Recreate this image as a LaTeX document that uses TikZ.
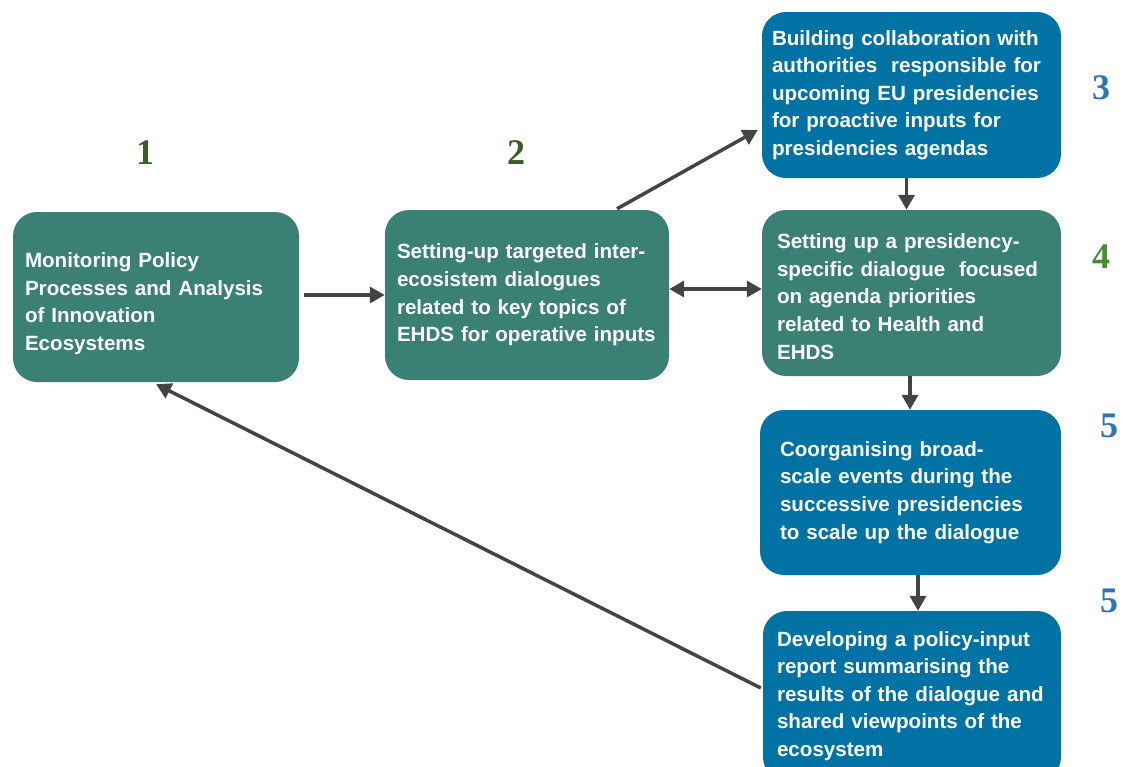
\documentclass[tikz,border=0pt]{standalone}
\usepackage{fontspec}
\setmainfont{Liberation Sans}
\newfontfamily\numfont{Liberation Serif}
\usetikzlibrary{arrows.meta}

\definecolor{boxgreen}{RGB}{58,128,117}
\definecolor{boxblue}{RGB}{0,114,163}
\definecolor{numdark}{RGB}{56,93,40}
\definecolor{numgreen}{RGB}{74,138,52}
\definecolor{numblue}{RGB}{46,117,182}
\definecolor{arrowgray}{RGB}{68,68,68}

\tikzset{
  stage/.style={rounded corners=24pt, text=white, align=left, inner xsep=12pt,
    font=\bfseries\fontsize{20.6}{27.6}\selectfont},
  greenbox/.style={stage, fill=boxgreen},
  bluebox/.style={stage, fill=boxblue},
  stepnum/.style={font=\numfont\bfseries\fontsize{36}{36}\selectfont},
  arr/.style={draw=arrowgray, line width=3.5pt, -{Triangle[length=15pt,width=16pt]}},
  arrboth/.style={arr, {Triangle[length=15pt,width=16pt]}-{Triangle[length=15pt,width=16pt]}}
}

\begin{document}
\begin{tikzpicture}[x=1pt,y=-1pt]
    \useasboundingbox (0,0) rectangle (1124,766);
    \clip (0,0) rectangle (1124,766);

    % step boxes
    \node [greenbox, inner xsep=12pt, text width=262pt, minimum height=170pt] (monitor) at (156,297)
        {\rule{0pt}{28pt}Monitoring Policy\\Processes and Analysis\\of Innovation\\Ecosystems};
    \node [greenbox, inner xsep=12pt, text width=260pt, minimum height=170pt] (dialogue) at (527,295)
        {Setting-up targeted inter-\\ecosistem dialogues\\related to key topics of\\EHDS for operative inputs};
    \node [bluebox, inner xsep=10pt, text width=279pt, minimum height=166pt] (collab) at (911.5,95)
        {Building collaboration with\\authorities\ \ responsible for\\upcoming EU presidencies\\for proactive inputs for\\presidencies agendas};
    \node [greenbox, inner xsep=15pt, text width=269pt, minimum height=166pt] (presid) at (911.5,293)
        {\rule{0pt}{22pt}Setting up a presidency-\\specific dialogue\ \ focused\\on agenda priorities\\related to Health and\\EHDS};
    \node [bluebox, inner xsep=20pt, text width=261pt, minimum height=165pt] (events) at (910.5,492.5)
        {Coorganising broad-\\scale events during the\\successive presidencies\\to scale up the dialogue};
    \node [bluebox, inner xsep=14pt, text width=270pt, minimum height=170pt] (report) at (912,696)
        {Developing a policy-input\\report summarising the\\results of the dialogue and\\shared viewpoints of the\\ecosystem};

    % step numbers
    \node [stepnum, text=numdark] (n1) at (145,153) {1};
    \node [stepnum, text=numdark] (n2) at (516,153) {2};
    \node [stepnum, text=numblue] (n3) at (1101,88) {3};
    \node [stepnum, text=numgreen] (n4) at (1101,257) {4};
    \node [stepnum, text=numblue] (n5) at (1109,426) {5};
    \node [stepnum, text=numblue] (n6) at (1109,601) {5};

    % connectors
    \draw [arr] ([xshift=5pt,yshift=2pt]monitor.east) -- (dialogue.west);
    \draw [arr] ([xshift=90pt,yshift=1pt]dialogue.north) -- ([xshift=-4pt,yshift=-35pt]collab.west);
    \draw [arrboth] ([yshift=6pt]dialogue.east) -- ([yshift=6pt]dialogue.east -| presid.west);
    \draw [arr] ([xshift=-5pt]collab.south) -- ([xshift=-5pt]collab.south |- presid.north);
    \draw [arr] ([xshift=-1.5pt]presid.south) -- ([xshift=-1.5pt]presid.south |- events.north);
    \draw [arr] ([xshift=7.5pt]events.south) -- ([xshift=7.5pt]events.south |- report.north);
    \draw [arr] ([xshift=-2pt,yshift=8pt]report.west) -- ([yshift=-2pt]monitor.south);
\end{tikzpicture}
\end{document}
